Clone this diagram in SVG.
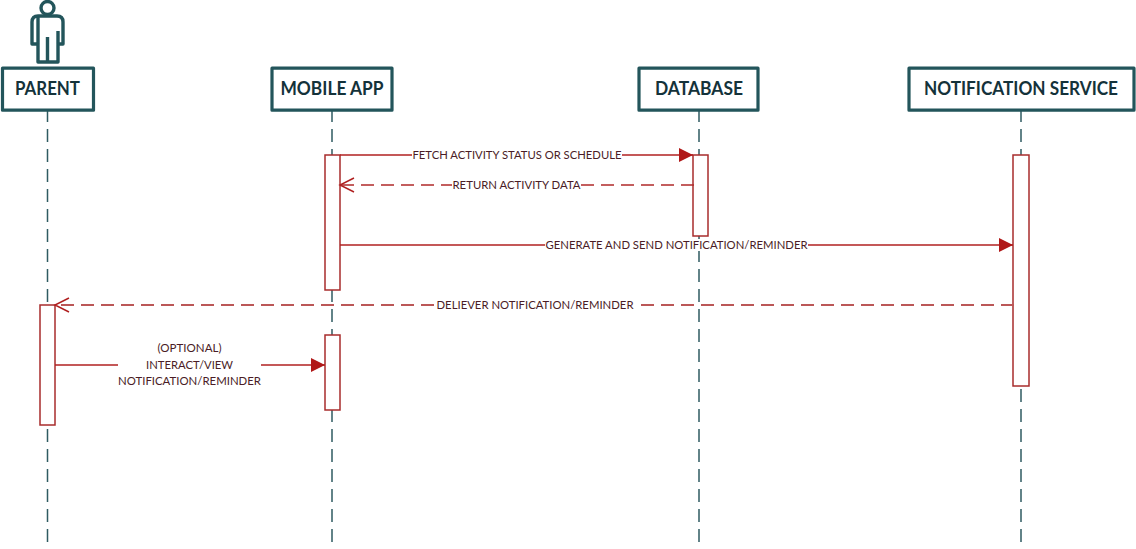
<svg xmlns="http://www.w3.org/2000/svg" width="1136" height="549" viewBox="0 0 1136 549">
<style>
.box{fill:#fff;stroke:#23555b;stroke-width:3.200;stroke-linejoin:round}
.name{font-family:Lato,"Liberation Sans",sans-serif;font-size:18px;font-weight:700;fill:#14323a;text-anchor:middle}
.life{stroke:#2f5b62;stroke-width:1.500;stroke-dasharray:13 7;fill:none}
.act{fill:#fff;stroke:#a82c2c;stroke-width:1.500}
.msg{stroke:#b02020;stroke-width:1.500;fill:none}
.dash{stroke-dasharray:13 7;stroke:#b02a2a}
.pale{stroke:#bb5757;stroke-width:2}
.lab{font-family:Lato,"Liberation Sans",sans-serif;font-size:10.800px;fill:#4a1c26;text-anchor:middle}
.bg{fill:#fff}
</style>
<defs>
<marker id="solid" markerUnits="userSpaceOnUse" markerWidth="16" markerHeight="14" refX="14" refY="7" orient="auto"><path d="M0 0L14 7L0 14Z" fill="#b01818"/></marker>
<marker id="open" markerUnits="userSpaceOnUse" markerWidth="17" markerHeight="18" refX="15" refY="8" orient="auto"><path d="M1 1L15 8L1 15" fill="none" stroke="#b02020" stroke-width="1.500"/></marker>
</defs>
<rect width="1136" height="549" fill="#fff"/>
<g id="lifelines">
<path class="life" d="M47.500 109V543"/>
<path class="life" d="M332 109V543"/>
<path class="life" d="M699 109V543"/>
<path class="life" d="M1021 109V543"/>
</g>
<g id="parent">
<g fill="none" stroke="#23555b" stroke-width="3.400" stroke-linejoin="round">
<circle cx="47.500" cy="8" r="6.500"/>
<path d="M38 16H57Q63 16 63 22V44H58V31M38 31V44H32V22Q32 16 38 16ZM38 31V62H58V31M47.500 37V62"/>
</g>
<rect class="box" x="2.500" y="68.200" width="91" height="42"/>
<text class="name" x="47.500" y="94.500" textLength="65" lengthAdjust="spacingAndGlyphs">PARENT</text>
</g>
<g id="mobile-app">
<rect class="box" x="272" y="68.200" width="120" height="42"/>
<text class="name" x="332" y="94.500" textLength="103" lengthAdjust="spacingAndGlyphs">MOBILE APP</text>
</g>
<g id="database">
<rect class="box" x="639" y="68.200" width="119" height="42"/>
<text class="name" x="699" y="94.500" textLength="88" lengthAdjust="spacingAndGlyphs">DATABASE</text>
</g>
<g id="notification-service">
<rect class="box" x="909" y="68.200" width="225" height="42"/>
<text class="name" x="1021" y="94.500" textLength="194" lengthAdjust="spacingAndGlyphs">NOTIFICATION SERVICE</text>
</g>
<g id="activations">
<rect class="act" x="325" y="155" width="15" height="135"/>
<rect class="act" x="693" y="155" width="15" height="81"/>
<rect class="act" x="1013" y="155" width="16" height="231"/>
<rect class="act" x="40" y="305" width="15" height="120"/>
<rect class="act" x="325" y="335" width="15" height="75"/>
</g>
<g id="connectors">
<path class="msg" d="M340 155H693" marker-end="url(#solid)"/>
<rect class="bg" x="412" y="149" width="210" height="12"/>
<text class="lab" x="517" y="158.500" textLength="209" lengthAdjust="spacingAndGlyphs">FETCH ACTIVITY STATUS OR SCHEDULE</text>
<path class="msg dash" d="M694 185H340" marker-end="url(#open)"/>
<rect class="bg" x="452" y="179" width="129" height="12"/>
<text class="lab" x="516.500" y="188.500" textLength="128" lengthAdjust="spacingAndGlyphs">RETURN ACTIVITY DATA</text>
<path class="msg" d="M340 245H1013" marker-end="url(#solid)"/>
<rect class="bg" x="545" y="239" width="263" height="12"/>
<text class="lab" x="676.500" y="248.500" textLength="262" lengthAdjust="spacingAndGlyphs">GENERATE AND SEND NOTIFICATION/REMINDER</text>
<path class="msg dash pale" d="M1014 305H55" marker-end="url(#open)"/>
<rect class="bg" x="436" y="299" width="198" height="12"/>
<text class="lab" x="535" y="308.500" textLength="197" lengthAdjust="spacingAndGlyphs">DELIEVER NOTIFICATION/REMINDER</text>
<path class="msg" d="M55 365H325" marker-end="url(#solid)"/>
<rect class="bg" x="118" y="342" width="143" height="46"/>
<text class="lab" x="189.500" y="352" textLength="64" lengthAdjust="spacingAndGlyphs">(OPTIONAL)</text>
<text class="lab" x="189.500" y="368.500" textLength="87" lengthAdjust="spacingAndGlyphs">INTERACT/VIEW</text>
<text class="lab" x="189.500" y="384.500" textLength="143" lengthAdjust="spacingAndGlyphs">NOTIFICATION/REMINDER</text>
</g>
</svg>
